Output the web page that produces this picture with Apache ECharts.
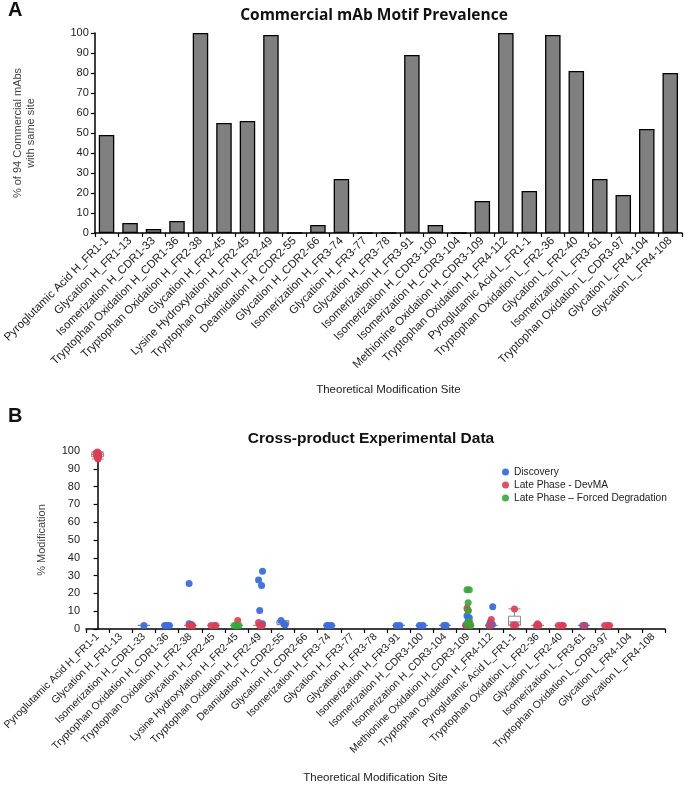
<!DOCTYPE html>
<html>
<head>
<meta charset="utf-8">
<script src="https://cdn.jsdelivr.net/npm/echarts@6/dist/echarts.min.js"></script>
<style>html,body{margin:0;padding:0;background:#fff;}#c{width:685px;height:785px;}</style>
</head>
<body>
<div id="c"></div>
<script>
const categories = [
  'Pyroglutamic Acid H_FR1-1','Glycation H_FR1-13','Isomerization H_CDR1-33','Tryptophan Oxidation H_CDR1-36',
  'Tryptophan Oxidation H_FR2-38','Glycation H_FR2-45','Lysine Hydroxylation H_FR2-45','Tryptophan Oxidation H_FR2-49',
  'Deamidation H_CDR2-55','Glycation H_CDR2-66','Isomerization H_FR3-74','Glycation H_FR3-77','Glycation H_FR3-78',
  'Isomerization H_FR3-91','Isomerization H_CDR3-100','Isomerization H_CDR3-104','Methionine Oxidation H_CDR3-109',
  'Tryptophan Oxidation H_FR4-112','Pyroglutamic Acid L_FR1-1','Tryptophan Oxidation L_FR2-36','Glycation L_FR2-40',
  'Isomerization L_FR3-61','Tryptophan Oxidation L_CDR3-97','Glycation L_FR4-104','Glycation L_FR4-108'
];
const motifPrevalence = [49,5,2,6,100,55,56,99,0,4,27,0,0,89,4,0,16,100,21,99,81,27,19,52,80];
const yTicks = [0,10,20,30,40,50,60,70,80,90,100];

// [category position (index + jitter), % modification]
const discoveryPts = [
  [2,2],
  [2.9,2],[3,2],[3.1,2],
  [3.95,25.5],[3.95,3],[4.05,2.5],
  [7.12,32.5],[6.95,27.5],[7.08,24.5],[7.0,10.4],[7.12,2.9],
  [7.92,4.8],[8.05,2.7],[8.1,2.4],
  [9.9,2],[10,2],[10.1,2],
  [12.9,2],[13.05,2],
  [13.9,2],[14.05,2],
  [14.95,2],[15.05,2],
  [15.95,7.5],[16.05,6.3],[16.0,4.5],[15.9,2.2],
  [17.06,12.5],[16.95,3.6],[17.05,2.5],[16.9,2],
  [19.0,2.2],
  [20.95,2],[21.05,2]
];
const devmaPts = [
  [-0.05,99],[0.05,98.5],[0,98],[-0.05,97.5],[0.05,97],[0,96],[0.02,95.5],[0,99.5],
  [3.95,2],[4.1,1.8],[4.05,2.2],
  [4.9,2],[5.05,2],[5.1,2],
  [6.05,4.8],
  [6.95,3.6],[7.0,2],[7.1,1.8],
  [15.95,11.6],[16.0,10.5],[16.05,3.5],[15.9,2],[16.1,2.3],
  [17.0,5.4],[16.95,2],
  [18.0,11.3],[17.95,2.3],[18.05,2.3],
  [19.0,3],[19.05,2],[18.95,2],
  [19.9,2],[20.05,2],[20.1,2],
  [21.0,2],
  [21.9,2],[22.05,2],[22.1,2]
];
const forcedPts = [
  [5.9,2],[6.0,2],[6.1,2],
  [15.95,22],[16.05,22],[16.0,14.8],[16.0,10.2],[16.05,4.2],[15.95,3],[16.1,2]
];
// [min, Q1, median, Q3, max] per category ('-' = none)
const boxStats = [
  [95.5,96.8,98,99,99.5],'-',[2,2,2,2,2],[2,2,2,2,2],[2,2,2,2,2],[2,2,2,2,2],[2,2,2,2,2],[2,2,2,2,2],
  [2.4,2.6,3.5,4.5,4.8],'-',[2,2,2,2,2],'-','-',[2,2,2,2,2],[2,2,2,2,2],[2,2,2,2,2],[2,2,2,2,2],
  [2,2,2,2,2],[2.1,2.2,4,7.2,11.3],[2,2,2,2,2],[2,2,2,2,2],[2,2,2,2,2],[2,2,2,2,2],'-','-'
];

const FONT = '"Liberation Sans", Arial, sans-serif';
const axisLineStyle = {lineStyle:{color:'#000',width:1.5}};
const chart = echarts.init(document.getElementById('c'), null, {renderer:'canvas'});

function catAxis(gridIndex, nameGap, fontSize){
  return {
    type:'category', gridIndex, data:categories,
    axisLine:axisLineStyle,
    axisTick:{show:true, alignWithLabel:false, length:4, lineStyle:{color:'#000',width:1.2}},
    axisLabel:{rotate:45, fontSize, color:'#222', fontFamily:FONT, margin:6, interval:0},
    name:'Theoretical Modification Site', nameLocation:'middle', nameGap,
    nameTextStyle:{fontSize:11.5, color:'#222', fontFamily:FONT}
  };
}
function valAxis(gridIndex, name, nameGap){
  return {
    type:'value', gridIndex, min:0, max:100, interval:10,
    axisLine:{show:true, lineStyle:{color:'#000',width:1.5}},
    axisTick:{show:true, length:4, lineStyle:{color:'#000',width:1.2}},
    splitLine:{show:false},
    axisLabel:{fontSize:11, color:'#222', fontFamily:FONT, margin:6,
      formatter:v => yTicks.includes(v) ? String(v) : ''},
    name, nameLocation:'middle', nameGap, nameRotate:90,
    nameTextStyle:{fontSize:11, color:'#444', fontFamily:FONT, lineHeight:13}
  };
}

const option = {
  animation:false,
  backgroundColor:'#fff',
  title:[
    {text:'Commercial mAb Motif Prevalence', left:369, top:3, textAlign:'center',
      textStyle:{fontSize:15.5, fontWeight:'bold', color:'#111', fontFamily:'"Liberation Sans Narrow", "Open Sans", sans-serif'}},
    {text:'Cross-product Experimental Data', left:366, top:426, textAlign:'center',
      textStyle:{fontSize:15.5, fontWeight:'bold', color:'#111', fontFamily:FONT}}
  ],
  graphic:[
    {type:'text', left:8, top:0, style:{text:'A', font:'bold 20px "Liberation Sans", Arial', fill:'#111'}},
    {type:'text', left:8, top:406, style:{text:'B', font:'bold 20px "Liberation Sans", Arial', fill:'#111'}}
  ],
  legend:{
    left:497, top:462, orient:'vertical', itemGap:3, itemWidth:7, itemHeight:7,
    icon:'circle', textStyle:{fontSize:10.2, color:'#222', fontFamily:FONT},
    data:['Discovery','Late Phase - DevMA','Late Phase \u2013 Forced Degradation']
  },
  grid:[
    {left:87, right:3, top:33, bottom:552, containLabel:false},
    {left:86, right:20, top:451, bottom:148, containLabel:false}
  ],
  xAxis:[
    catAxis(0, 151, 11.5),
    catAxis(1, 143, 10.5),
    {type:'value', gridIndex:1, min:-0.5, max:24.5, show:false}
  ],
  yAxis:[
    valAxis(0, '% of 94 Commercial mAbs\nwith same site', 57),
    valAxis(1, '% Modification', 38)
  ],
  series:[
    {type:'bar', xAxisIndex:0, yAxisIndex:0, data:motifPrevalence, barWidth:'66%',
      itemStyle:{color:'#808080', borderColor:'#000', borderWidth:1.3}},
    {type:'boxplot', xAxisIndex:1, yAxisIndex:1, data:boxStats, boxWidth:[12,12], z:1,
      itemStyle:{color:'rgba(255,255,255,0)', borderColor:'#8a8a8a', borderWidth:1}},
    {name:'Discovery', type:'scatter', xAxisIndex:2, yAxisIndex:1, data:discoveryPts,
      symbolSize:7, z:3, itemStyle:{color:'#3a6de0', opacity:0.95}},
    {name:'Late Phase - DevMA', type:'scatter', xAxisIndex:2, yAxisIndex:1, data:devmaPts,
      symbolSize:7, z:4, itemStyle:{color:'#dc3d55', opacity:0.9}},
    {name:'Late Phase \u2013 Forced Degradation', type:'scatter', xAxisIndex:2, yAxisIndex:1, data:forcedPts,
      symbolSize:7, z:5, itemStyle:{color:'#34a835', opacity:0.9}}
  ]
};
chart.setOption(option);
</script>
</body>
</html>
